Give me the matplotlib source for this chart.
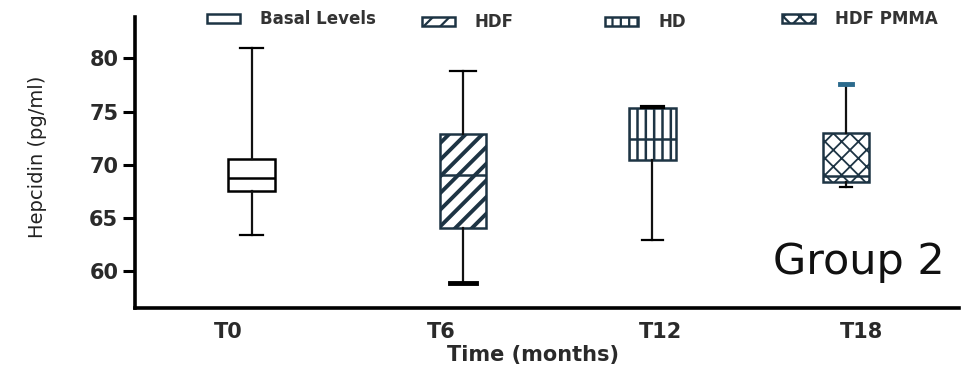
import matplotlib
matplotlib.use("Agg")
import matplotlib.pyplot as plt
from matplotlib.patches import Rectangle

plt.rcParams["font.family"] = ["DejaVu Sans"]
plt.rcParams["hatch.linewidth"] = 1.6

# box statistics (pg/ml)
timepoints = ["T0", "T6", "T12", "T18"]
series = ["Basal Levels", "HDF", "HD", "HDF PMMA"]
whisker_low = [63.4, 58.9, 62.9, 67.9]
q1 = [67.5, 64.0, 70.4, 68.4]
median = [68.7, 69.0, 72.4, 68.9]
q3 = [70.5, 72.9, 75.3, 73.0]
whisker_high = [81.0, 78.8, 75.4, 77.6]

# layout / style
positions = [1.0, 2.07, 3.03, 4.01]
tick_pos = [0.88, 1.96, 3.07, 4.09]
hatches = [None, "//", "||", "xx"]
hatch_lw = [1.0, 2.8, 1.8, 1.3]
edge = ["black", "#1d3444", "#1d3444", "#1d3444"]
capw = [0.12, 0.13, 0.11, 0.06]
top_cap = ["black", "black", "black", "#2b6a8c"]
top_cap_lw = [1.6, 1.6, 3.0, 3.5]
low_cap_lw = [1.6, 3.5, 1.6, 1.6]

fig = plt.figure(figsize=(9.61, 3.74), dpi=100)
ax = fig.add_axes([0.1405, 0.1765, 0.857, 0.778])

for i in range(len(timepoints)):
    stat = dict(med=median[i], q1=q1[i], q3=q3[i],
                whislo=whisker_low[i], whishi=whisker_high[i], fliers=[])
    art = ax.bxp([stat], positions=[positions[i]], widths=0.235,
                 capwidths=[capw[i]],
                 patch_artist=True, showfliers=False,
                 boxprops=dict(facecolor="white", edgecolor=edge[i],
                               linewidth=1.8, hatch=hatches[i]),
                 medianprops=dict(color=edge[i], linewidth=1.8),
                 whiskerprops=dict(color="#111111", linewidth=1.6),
                 capprops=dict(color="black", linewidth=1.6))
    if hasattr(art["boxes"][0], "set_hatch_linewidth"):
        art["boxes"][0].set_hatch_linewidth(hatch_lw[i])
    art["caps"][0].set_linewidth(low_cap_lw[i])
    art["caps"][1].set_linewidth(top_cap_lw[i])
    art["caps"][1].set_color(top_cap[i])

ax.set_xlim(0.41, 4.58)
ax.set_ylim(56.5, 83.9)
ax.set_yticks([60, 65, 70, 75, 80])
ax.set_xticks(tick_pos)
ax.set_xticklabels(timepoints, fontsize=15, fontweight="bold", color="#2a2a2a")
ax.tick_params(axis="x", length=0, pad=10)
ax.tick_params(axis="y", length=9, width=2.2, pad=3, labelsize=15,
               labelcolor="#2a2a2a")
for lab in ax.get_yticklabels():
    lab.set_fontweight("bold")
for s in ["top", "right"]:
    ax.spines[s].set_visible(False)
for s in ["left", "bottom"]:
    ax.spines[s].set_linewidth(2.6)

W, H = 961, 374
fig.text(38 / W, 1 - 157 / H, "Hepcidin (pg/ml)", rotation=90,
         ha="center", va="center", fontsize=14, color="#222222")
fig.text(533 / W, 1 - 355 / H, "Time (months)", ha="center", va="center",
         fontsize=15, fontweight="bold", color="#2a2a2a")
fig.text(945 / W, 1 - 262 / H, "Group 2", ha="right", va="center",
         fontsize=31, color="#111111")

# legend drawn row-wise at the top
leg_x = [207, 422, 605, 782]
leg_y = [18, 21, 21, 18]
for i, name in enumerate(series):
    r = Rectangle(((leg_x[i]) / W, 1 - (leg_y[i] + 4.5) / H), 33 / W, 9 / H,
                  transform=fig.transFigure, facecolor="white",
                  edgecolor="#1d3444", linewidth=1.8, hatch=hatches[i])
    fig.add_artist(r)
    fig.text((leg_x[i] + 53) / W, 1 - (leg_y[i] + 1) / H, name,
             ha="left", va="center", fontsize=12, fontweight="bold",
             color="#333333")

fig.savefig("out.png", dpi=100)
